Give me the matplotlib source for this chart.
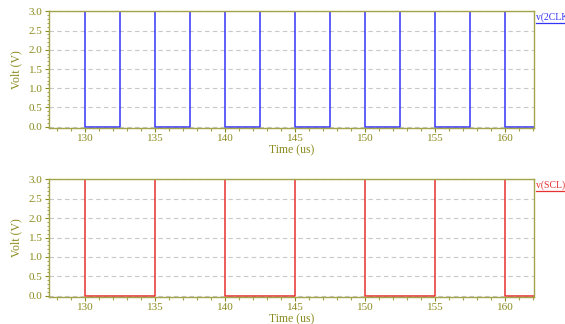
import matplotlib
matplotlib.use("Agg")
import matplotlib.pyplot as plt
from matplotlib.lines import Line2D
from matplotlib.ticker import MultipleLocator

# Data
clk_times = [127.4, 130.0, 132.5, 135.0, 137.5, 140.0, 142.5, 145.0, 147.5,
             150.0, 152.5, 155.0, 157.5, 160.0, 162.1]
clk_volts = [3.0, 0.0, 3.0, 0.0, 3.0, 0.0, 3.0, 0.0, 3.0,
             0.0, 3.0, 0.0, 3.0, 0.0, 0.0]
scl_times = [127.4, 130.0, 135.0, 140.0, 145.0, 150.0, 155.0, 160.0, 162.1]
scl_volts = [3.0, 0.0, 3.0, 0.0, 3.0, 0.0, 3.0, 0.0, 0.0]
x_ticks = [130, 135, 140, 145, 150, 155, 160]
y_ticks = [0.0, 0.5, 1.0, 1.5, 2.0, 2.5, 3.0]
trace_names = ["v(2CLK)", "v(SCL)"]

olive = "#8a8a1e"
spine_c = "#a4a44a"
serif = ["Liberation Serif", "DejaVu Serif"]

fig = plt.figure(figsize=(5.65, 3.24), dpi=100)
ax1 = fig.add_axes([0.0867, 0.606, 0.858, 0.359])
ax2 = fig.add_axes([0.0867, 0.0843, 0.858, 0.362])

series = [(ax1, clk_times, clk_volts, "#3434f8"),
          (ax2, scl_times, scl_volts, "#e83030")]

for ax, t, v, c in series:
    ax.step(t, v, where="post", color=c, lw=1.1, zorder=2)
    ax.set_xlim(127.4, 162.05)
    ax.set_ylim(-0.025, 3.0)
    ax.set_xticks(x_ticks)
    ax.set_yticks(y_ticks)
    ax.set_yticklabels([f"{y:.1f}" for y in y_ticks])
    ax.xaxis.set_minor_locator(MultipleLocator(1))
    ax.yaxis.set_minor_locator(MultipleLocator(0.1))
    ax.tick_params(axis="both", which="major", colors=olive, labelsize=8,
                   length=3, width=0.8, direction="out", pad=1.5)
    ax.tick_params(axis="both", which="minor", colors=spine_c, length=1.8,
                   width=0.8, direction="out")
    for lab in ax.get_xticklabels() + ax.get_yticklabels():
        lab.set_fontfamily(serif)
        lab.set_color(olive)
    for s in ax.spines.values():
        s.set_color(spine_c)
        s.set_linewidth(1.0)
    ax.grid(axis="y", color="#c8c8c8", ls=(0, (4, 3)), lw=0.8)
    ax.set_axisbelow(True)
    ax.set_ylabel("Volt (V)", fontsize=8.5, color=olive, family=serif, labelpad=5)
    ax.set_xlabel("Time (us)", fontsize=8.5, color=olive, family=serif, labelpad=1)

# trace names at the right
for (ax, t, v, c), name in zip(series, trace_names):
    pos = ax.get_position()
    ytxt = pos.y1 - 0.003
    fig.text(0.948, ytxt, name, color=c, fontsize=7, family=serif,
             va="top", ha="left")
    fig.add_artist(Line2D([0.948, 1.0], [ytxt - 0.034, ytxt - 0.034],
                          color=c, lw=0.9, transform=fig.transFigure))

fig.savefig("out.png", dpi=100)
